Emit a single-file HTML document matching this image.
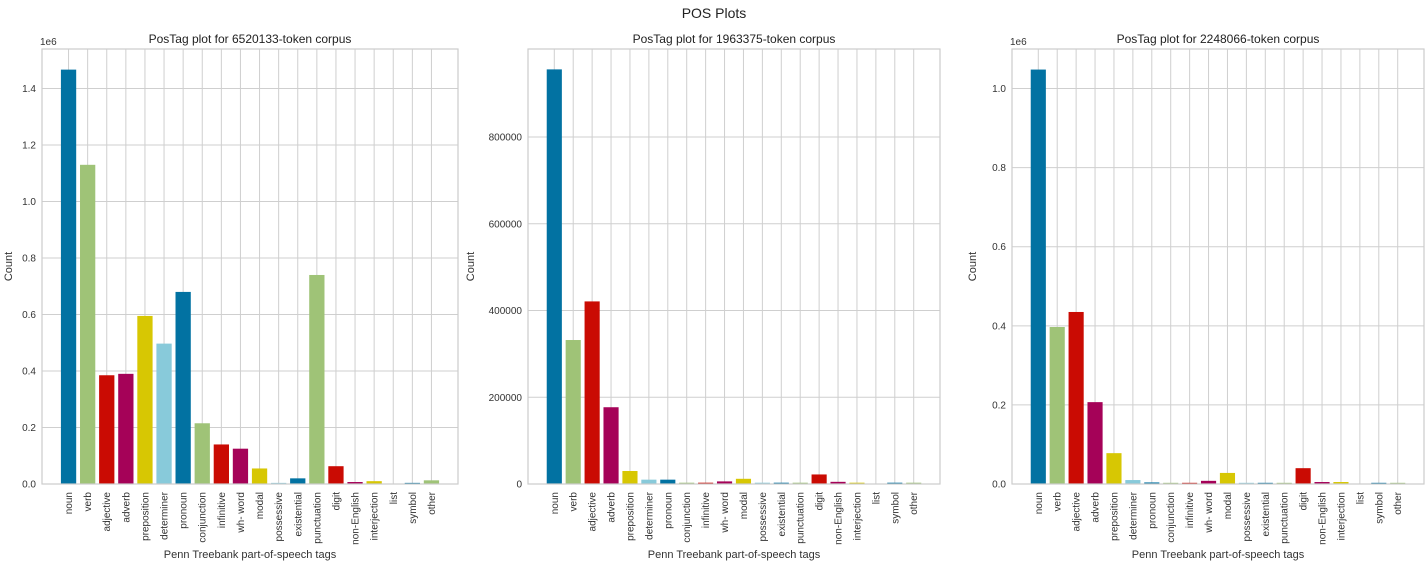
<!DOCTYPE html>
<html><head><meta charset="utf-8">
<style>
html,body{margin:0;padding:0;background:#fff;}
svg{display:block;font-family:"Liberation Sans","DejaVu Sans",sans-serif;}
</style></head>
<body>
<svg id="fig" width="1428" height="565" viewBox="0 0 1428 565">
<text x="714" y="18" text-anchor="middle" font-size="14" fill="#222">POS Plots</text>
</svg>
<script>
const categories = ["noun","verb","adjective","adverb","preposition","determiner","pronoun","conjunction","infinitive","wh- word","modal","possessive","existential","punctuation","digit","non-English","interjection","list","symbol","other"];
const corpus1Values = [1467000,1130000,385000,390000,595000,497000,680000,215000,140000,125000,55000,4000,20000,740000,63000,7000,10000,0,4000,13000];
const corpus2Values = [956000,332000,421000,177000,30000,10000,10000,3000,3000,6000,12000,3000,3000,3000,22000,5000,3000,0,3000,3000];
const corpus3Values = [1048000,397000,435000,207000,78000,10000,4000,3000,3000,8000,28000,3000,3000,3000,40000,5000,5000,0,3000,3000];
const panelTitles = ["PosTag plot for 6520133-token corpus","PosTag plot for 1963375-token corpus","PosTag plot for 2248066-token corpus"];
const ticks1 = [0,200000,400000,600000,800000,1000000,1200000,1400000];
const tickLabels1 = ["0.0","0.2","0.4","0.6","0.8","1.0","1.2","1.4"];
const ticks2 = [0,200000,400000,600000,800000];
const tickLabels2 = ["0","200000","400000","600000","800000"];
const ticks3 = [0,200000,400000,600000,800000,1000000];
const tickLabels3 = ["0.0","0.2","0.4","0.6","0.8","1.0"];
const palette = ["#0272a2","#9fc377","#ca0b03","#a50258","#d7c703","#88cada"];

const NS = "http://www.w3.org/2000/svg";
const svg = document.getElementById("fig");
function mk(tag, attrs, parent){
  const e = document.createElementNS(NS, tag);
  for (const k in attrs) e.setAttribute(k, attrs[k]);
  (parent||svg).appendChild(e);
  return e;
}
const panels = [
  {x0:42,x1:458,values:corpus1Values,ymax:1540000,ticks:ticks1,labels:tickLabels1,offset:"1e6",lx:12},
  {x0:528,x1:940,values:corpus2Values,ymax:1003000,ticks:ticks2,labels:tickLabels2,offset:"",lx:474},
  {x0:1012,x1:1424,values:corpus3Values,ymax:1100000,ticks:ticks3,labels:tickLabels3,offset:"1e6",lx:976}
];
const Y0 = 484, Y1 = 49;
panels.forEach((p, pi) => {
  const g = mk("g", {});
  
  
  const n = categories.length;
  const lo = -0.4 - 0.05*(n-1+0.8), hi = n-1+0.4 + 0.05*(n-1+0.8);
  const xs = v => p.x0 + (v-lo)/(hi-lo)*(p.x1-p.x0);
  const ys = v => Y0 - v/p.ymax*(Y0-Y1);
  p.ticks.forEach((t,i) => {
    const y = ys(t);
    const gl = mk("line",{x1:p.x0,x2:p.x1,y1:y,y2:y,stroke:"#cfcfcf","stroke-width":1},g);
    
    
    const tl = mk("text",{x:p.x0-6,y:y+3.5,"text-anchor":"end","font-size":10,fill:"#333"},g);
    tl.textContent = p.labels[i];
    
    
  });
  categories.forEach((c,i) => {
    const x = xs(i);
    const gl = mk("line",{x1:x,x2:x,y1:Y1,y2:Y0,stroke:"#cfcfcf","stroke-width":1},g);
    
    
  });
  categories.forEach((c,i) => {
    const bw = 0.8*(p.x1-p.x0)/(hi-lo);
    const x = xs(i) - bw/2;
    const y = ys(p.values[i]);
    const b = mk("rect",{x:x,y:y,width:bw,height:Math.max(0,Y0-y),fill:palette[i%palette.length]},g);
    
    
    const tx = xs(i)+3.5, ty = 492;
    const t = mk("text",{x:tx,y:ty,"text-anchor":"end","font-size":10,fill:"#333",transform:`rotate(-90 ${tx} ${ty})`},g);
    t.textContent = c;
    
    
  });
  const fr = mk("rect",{x:p.x0,y:Y1,width:p.x1-p.x0,height:Y0-Y1,fill:"none",stroke:"#cccccc","stroke-width":1.2},g);
  
  
  const ti = mk("text",{x:(p.x0+p.x1)/2,y:43,"text-anchor":"middle","font-size":12,fill:"#222"},g);
  ti.textContent = panelTitles[pi];
  
  
  const xl = mk("text",{x:(p.x0+p.x1)/2,y:558,"text-anchor":"middle","font-size":11,fill:"#333"},g);
  xl.textContent = "Penn Treebank part-of-speech tags";
  
  
  const lx = p.lx;
  const yl = mk("text",{x:lx,y:(Y0+Y1)/2,"text-anchor":"middle","font-size":11,fill:"#333",transform:`rotate(-90 ${lx} ${(Y0+Y1)/2})`},g);
  yl.textContent = "Count";
  
  
  if (p.offset){
    const o = mk("text",{x:p.x0-2,y:45,"font-size":10,fill:"#333"},g);
    o.textContent = p.offset;
    
    
  }
});
</script>
</body></html>
